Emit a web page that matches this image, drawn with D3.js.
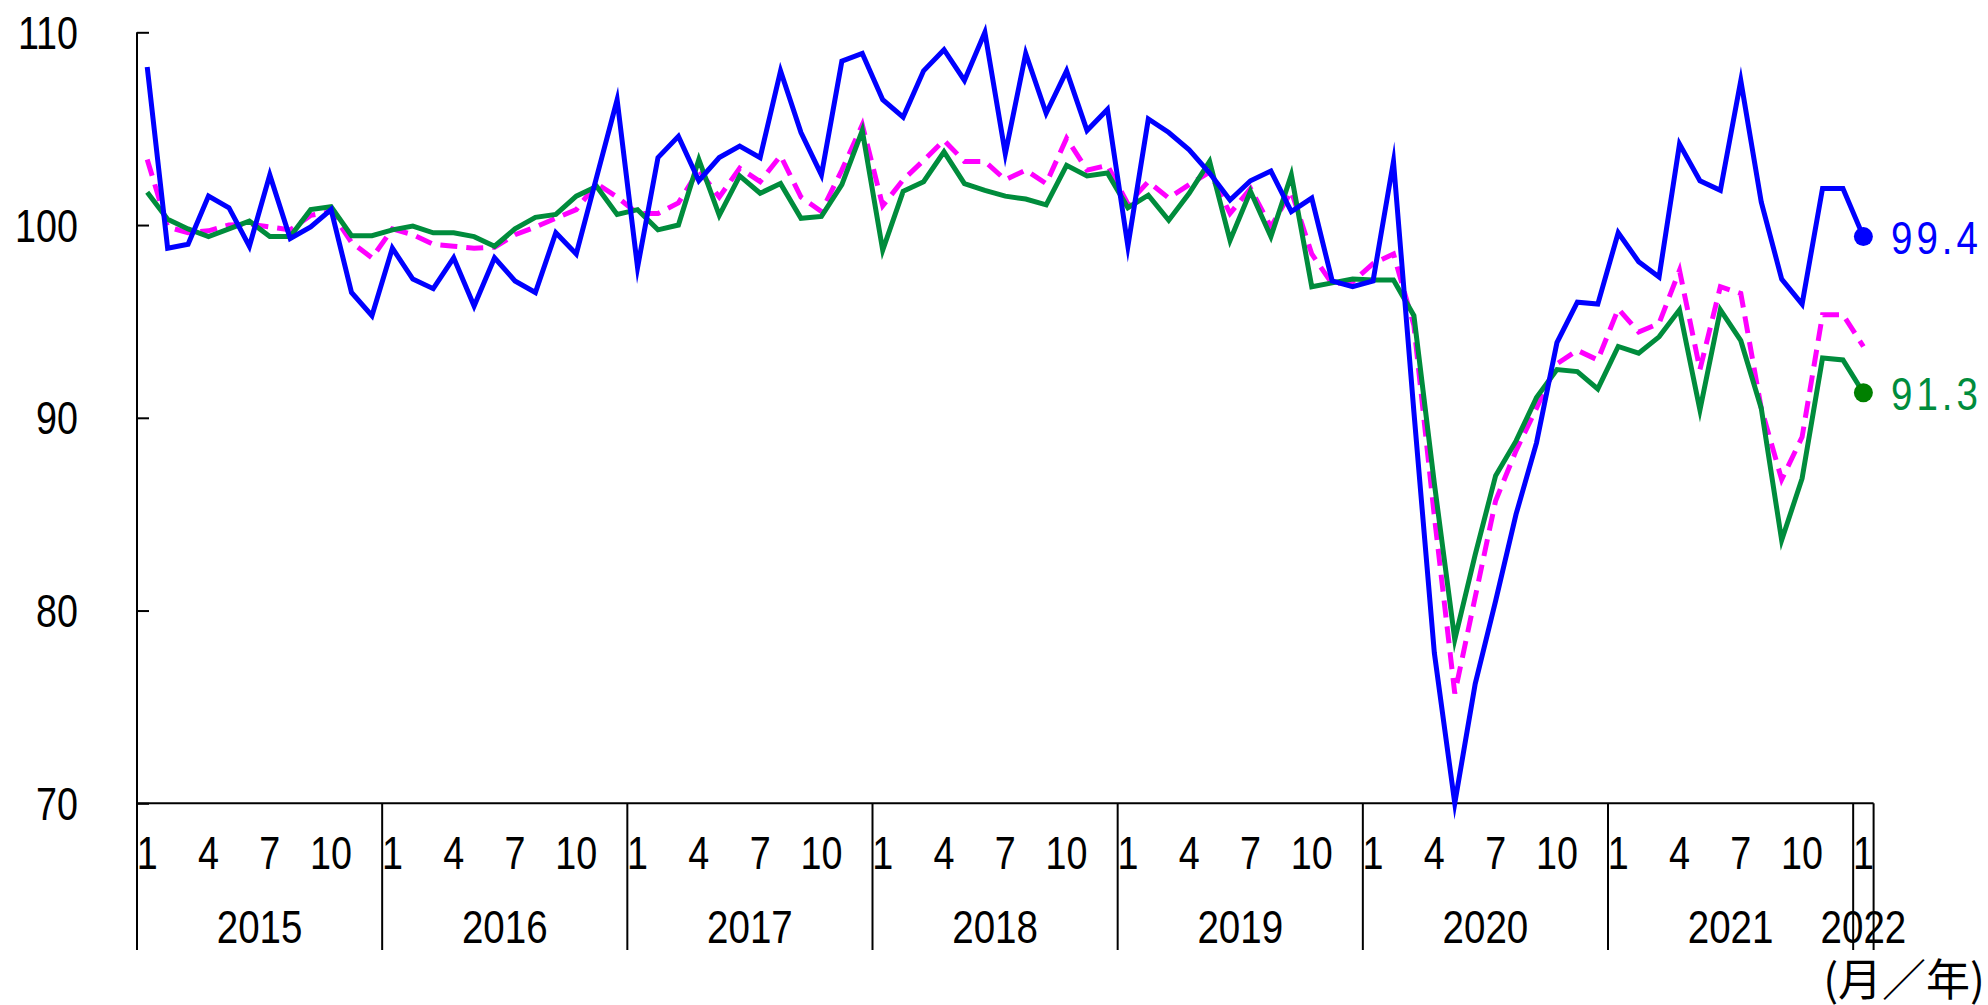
<!DOCTYPE html>
<html>
  <head>
    <meta http-equiv="content-type" content="text/html; charset=UTF-8">
    <title>index chart</title>
    <script type='text/javascript' src='https://d3js.org/d3.v7.min.js'></script>
    <style type='text/css'>
      body { margin: 0; background-color: white; }
      text { font-family: 'Liberation Sans', Arial, sans-serif; }
    </style>
  </head>
  <body>
    <script type='text/javascript'>
    // months: Jan 2015 .. Jan 2022
    var years = [2015, 2016, 2017, 2018, 2019, 2020, 2021, 2022];
    var monthTicks = [1, 4, 7, 10];
    var yTicks = [70, 80, 90, 100, 110];

    var blueValues = [
      108.2, 98.8, 99.0, 101.5, 100.9, 98.9, 102.6, 99.3, 99.9, 100.8, 96.5, 95.3,
      98.8, 97.2, 96.7, 98.3, 95.8, 98.3, 97.1, 96.5, 99.6, 98.5, 102.5, 106.5,
      97.8, 103.5, 104.6, 102.3, 103.5, 104.1, 103.5, 108.0, 104.8, 102.6, 108.5, 108.9,
      106.5, 105.6, 108.0, 109.1, 107.5, 110.0, 103.7, 108.9, 105.8, 108.0, 104.9, 106.0,
      98.9, 105.5, 104.8, 103.9, 102.7, 101.3, 102.3, 102.8, 100.7, 101.4, 97.1, 96.8,
      97.1, 103.3, 90.3, 77.8, 70.0, 76.2, 80.5, 85.0, 88.7, 93.9, 96.0, 95.9,
      99.6, 98.1, 97.3, 104.2, 102.3, 101.8, 107.5, 101.2, 97.2, 95.9, 101.9, 101.9,
      99.4
    ];
    var greenValues = [
      101.7, 100.3, 99.8, 99.4, 99.8, 100.2, 99.4, 99.4, 100.8, 100.95, 99.45, 99.45,
      99.75, 99.95, 99.6, 99.6, 99.4, 98.9, 99.8, 100.4, 100.55, 101.5, 102.0, 100.55,
      100.8, 99.75, 100.0, 103.4, 100.5, 102.55, 101.65, 102.15, 100.35, 100.45, 102.1, 104.9,
      98.7, 101.75, 102.25, 103.8, 102.15, 101.8, 101.5, 101.35, 101.05, 103.1, 102.55, 102.7,
      100.9, 101.55, 100.25, 101.65, 103.3, 99.2, 101.75, 99.4, 102.6, 96.8, 97.0, 97.2,
      97.15, 97.15, 95.3, 86.6, 78.5, 82.9, 87.0, 88.8, 91.05, 92.5, 92.4, 91.5,
      93.7, 93.35, 94.2, 95.6, 90.4, 95.6, 94.0, 90.5, 83.65, 86.85, 93.1, 93.0,
      91.3
    ];
    var magentaValues = [
      103.4, 99.9, 99.6, 99.7, 100.0, 100.05, 99.9, 99.75, 100.5, 100.7, 99.1, 98.3,
      99.8, 99.5, 99.0, 98.9, 98.8, 98.85, 99.5, 99.9, 100.35, 100.8, 102.15, 101.45,
      100.6, 100.6, 101.15, 102.85, 101.45, 102.95, 102.25, 103.6, 101.45, 100.7, 102.85, 105.2,
      101.0, 102.35, 103.35, 104.4, 103.3, 103.3, 102.35, 102.85, 102.15, 104.5, 102.85, 103.1,
      101.1, 102.25, 101.4, 102.1, 102.75, 100.6, 101.9, 99.9, 101.75, 98.5, 96.95, 97.05,
      98.0, 98.5, 94.8, 84.9, 75.7, 80.7, 85.7, 88.3, 90.5, 92.8, 93.5, 93.0,
      95.65, 94.45, 94.9, 97.65, 92.5, 96.8, 96.45, 90.5, 86.8, 89.0, 95.35, 95.35,
      93.7
    ];

    var W = 1988, H = 1005;
    var plotLeft = 137, plotRight = 1873.6, plotTop = 32.3, plotBottom = 803.3;
    var dividerBottom = 950;
    var squeeze = 0.82;   // narrow digits like the original font

    var months = [];
    years.forEach(function(yr) {
      var n = (yr === 2022) ? 1 : 12;
      for (var m = 1; m <= n; m++) months.push({ year: yr, month: m, key: yr + '-' + m });
    });

    var svg = d3.select('body').append('svg')
      .attr('width', W).attr('height', H);

    var x = d3.scaleBand()
      .domain(months.map(function(d) { return d.key; }))
      .range([plotLeft, plotRight]);
    var xc = function(key) { return x(key) + x.bandwidth() / 2; };

    var y = d3.scaleLinear().domain([70, 110]).range([plotBottom, plotTop]);

    // place a condensed text at (px, py)
    function narrow(sel, px, py) {
      sel.attr('x', 0).attr('y', 0)
        .attr('transform', function(d, i) {
          var a = typeof px === 'function' ? px(d, i) : px;
          var b = typeof py === 'function' ? py(d, i) : py;
          return 'translate(' + a + ',' + b + ') scale(' + squeeze + ',1)';
        });
      return sel;
    }

    // y axis with inward ticks
    var yAxis = d3.axisRight(y).tickValues(yTicks).tickSize(12).tickFormat('');
    var gy = svg.append('g').attr('transform', 'translate(' + plotLeft + ',0)').call(yAxis);
    gy.select('.domain').remove();
    gy.selectAll('.tick line').attr('stroke', '#000').attr('stroke-width', 2);

    narrow(svg.selectAll('text.ylab').data(yTicks).enter().append('text')
      .attr('class', 'ylab')
      .attr('text-anchor', 'end')
      .attr('dy', '0.36em')
      .style('font-size', '46px')
      .text(function(d) { return d; }), 78, function(d) { return y(d); });

    svg.append('line')
      .attr('x1', plotLeft).attr('x2', plotLeft)
      .attr('y1', plotTop).attr('y2', dividerBottom)
      .attr('stroke', '#000').attr('stroke-width', 2);

    // x axis line
    svg.append('line')
      .attr('x1', plotLeft).attr('x2', plotRight)
      .attr('y1', plotBottom).attr('y2', plotBottom)
      .attr('stroke', '#000').attr('stroke-width', 2);

    // year dividers (start of each January plus the right end)
    var dividerX = months.filter(function(d) { return d.month === 1 && d.year !== 2015; })
      .map(function(d) { return x(d.key); });
    dividerX.push(plotRight);
    svg.selectAll('line.divider').data(dividerX).enter().append('line')
      .attr('class', 'divider')
      .attr('x1', function(d) { return d; }).attr('x2', function(d) { return d; })
      .attr('y1', plotBottom).attr('y2', dividerBottom)
      .attr('stroke', '#000').attr('stroke-width', 2);

    // month labels
    narrow(svg.selectAll('text.month')
      .data(months.filter(function(d) { return monthTicks.indexOf(d.month) >= 0; }))
      .enter().append('text')
      .attr('class', 'month')
      .attr('text-anchor', 'middle')
      .style('font-size', '46px')
      .text(function(d) { return d.month; }), function(d) { return xc(d.key); }, 869);

    // year labels, centred on each year's months
    narrow(svg.selectAll('text.year').data(years).enter().append('text')
      .attr('class', 'year')
      .attr('text-anchor', 'middle')
      .style('font-size', '47px')
      .text(function(yr) { return yr; }), function(yr) {
        var ms = months.filter(function(d) { return d.year === yr; });
        return (x(ms[0].key) + x(ms[ms.length - 1].key) + x.bandwidth()) / 2;
      }, 943);

    svg.append('text')
      .attr('x', 1985).attr('y', 996)
      .attr('text-anchor', 'end')
      .style('font-family', "'Noto Sans CJK JP', sans-serif")
      .style('font-size', '44px')
      .text('(月／年)');

    // series
    var line = d3.line()
      .x(function(d, i) { return xc(months[i].key); })
      .y(function(d) { return y(d); });

    svg.append('path').datum(magentaValues)
      .attr('d', line).attr('fill', 'none')
      .attr('stroke', '#FF00FF').attr('stroke-width', 5)
      .attr('stroke-dasharray', '17,9');
    svg.append('path').datum(greenValues)
      .attr('d', line).attr('fill', 'none')
      .attr('stroke', '#008C3C').attr('stroke-width', 5)
      .attr('stroke-linejoin', 'miter').attr('stroke-miterlimit', 10);
    svg.append('path').datum(blueValues)
      .attr('d', line).attr('fill', 'none')
      .attr('stroke', '#0000FF').attr('stroke-width', 5)
      .attr('stroke-linejoin', 'miter').attr('stroke-miterlimit', 10);

    // end markers and labels
    var lastKey = months[months.length - 1].key;
    var ends = [
      { value: blueValues[blueValues.length - 1], dot: '#0000FF', color: '#0000FF' },
      { value: greenValues[greenValues.length - 1], dot: '#008000', color: '#008C3C' }
    ];
    svg.selectAll('circle.end').data(ends).enter().append('circle')
      .attr('cx', xc(lastKey)).attr('cy', function(d) { return y(d.value); })
      .attr('r', 9.5).attr('fill', function(d) { return d.dot; });
    narrow(svg.selectAll('text.end').data(ends).enter().append('text')
      .attr('dy', '0.36em')
      .attr('fill', function(d) { return d.color; })
      .style('font-size', '47px')
      .attr('textLength', 87 / squeeze).attr('lengthAdjust', 'spacing')
      .text(function(d) { return d.value.toFixed(1); }), 1891, function(d) { return y(d.value); });
    </script>
  </body>
</html>
